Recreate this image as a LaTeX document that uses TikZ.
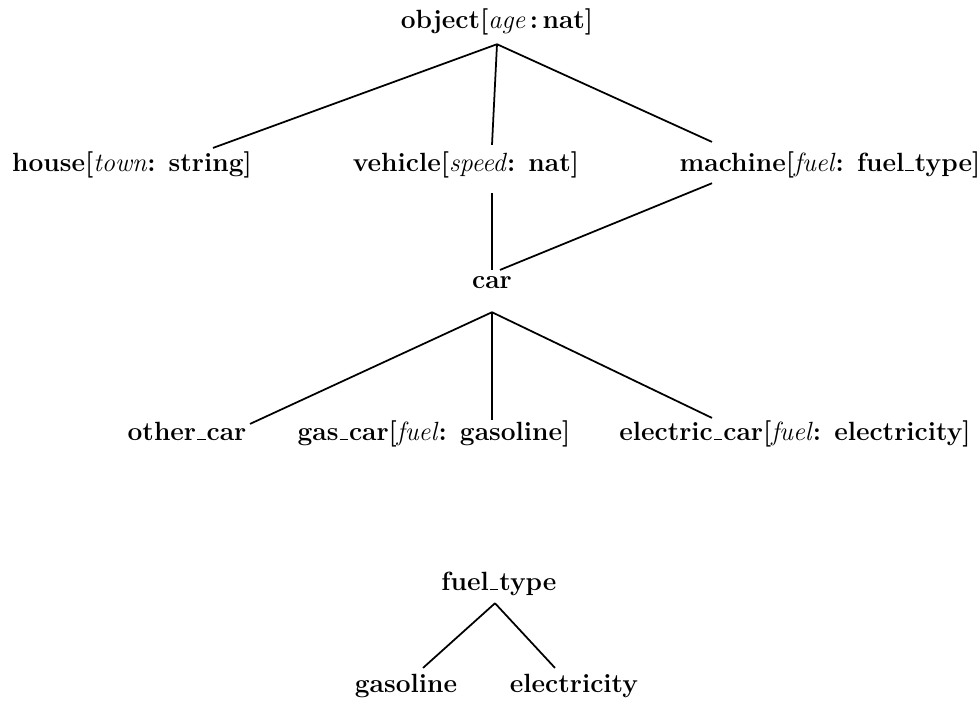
\documentclass[tikz,border=0pt]{standalone}
\usepackage{amsmath,amssymb}
\usepackage{tikz}
\usetikzlibrary{positioning,calc}

\newcommand{\attr}[1]{\textmd{\textit{#1}}}
\newcommand{\us}{\kern.04em\rule{0.32em}{0.6pt}\kern.04em}

\begin{document}
\begin{tikzpicture}[
    x=0.016cm, y=-0.016cm,
    sort/.style={inner sep=1pt, anchor=base, text height=8.4pt, text depth=3pt,
        font=\fontsize{12}{14}\selectfont\bfseries},
    link/.style={thick}
]
\useasboundingbox (0,0) rectangle (980,702);

% Top sort
\node[sort] (object) at (497,28) {object[\attr{age}\,:\,nat]};

% First level
\node[sort] (house) at (132,171) {house[\attr{town}: string]};
\node[sort] (vehicle) at (466,171) {vehicle[\attr{speed}: nat]};
\node[sort] (machine) at (830,171) {machine[\attr{fuel}: fuel\us type]};

% Car
\node[sort] (car) at (492,288) {car};

% Subsorts of car
\node[sort] (other) at (187,440) {other\us car};
\node[sort] (gas) at (434,440) {gas\us car[\attr{fuel}: gasoline]};
\node[sort] (electric) at (795,440) {electric\us car[\attr{fuel}: electricity]};

% Fuel type
\node[sort] (fuel) at (499,590) {fuel\us type};
\node[sort] (gasoline) at (406,692) {gasoline};
\node[sort] (electricity) at (574,692) {electricity};

% Lines
\draw[link] ($(object.south)+(0,7)$) -- ($(house.north)+(81,-2)$);
\draw[link] ($(object.south)+(0,7)$) -- ($(vehicle.north)+(26,-5)$);
\draw[link] ($(object.south)+(0,7)$) -- ($(machine.north)+(-118,-8)$);
\draw[link] ($(vehicle.south)+(26,13)$) -- ($(car.north)+(0,3)$);
\draw[link] ($(machine.south)+(-118,3)$) -- ($(car.north)+(8,3)$);
\draw[link] ($(car.south)+(0,15)$) -- ($(other.north)+(63,5)$);
\draw[link] ($(car.south)+(0,15)$) -- ($(gas.north)+(58,1)$);
\draw[link] ($(car.south)+(0,15)$) -- ($(electric.north)+(-83,-1)$);
\draw[link] ($(fuel.south)+(-4,4)$) -- ($(gasoline.north)+(17,-3)$);
\draw[link] ($(fuel.south)+(-4,4)$) -- ($(electricity.north)+(-19,-3)$);

\end{tikzpicture}
\end{document}
